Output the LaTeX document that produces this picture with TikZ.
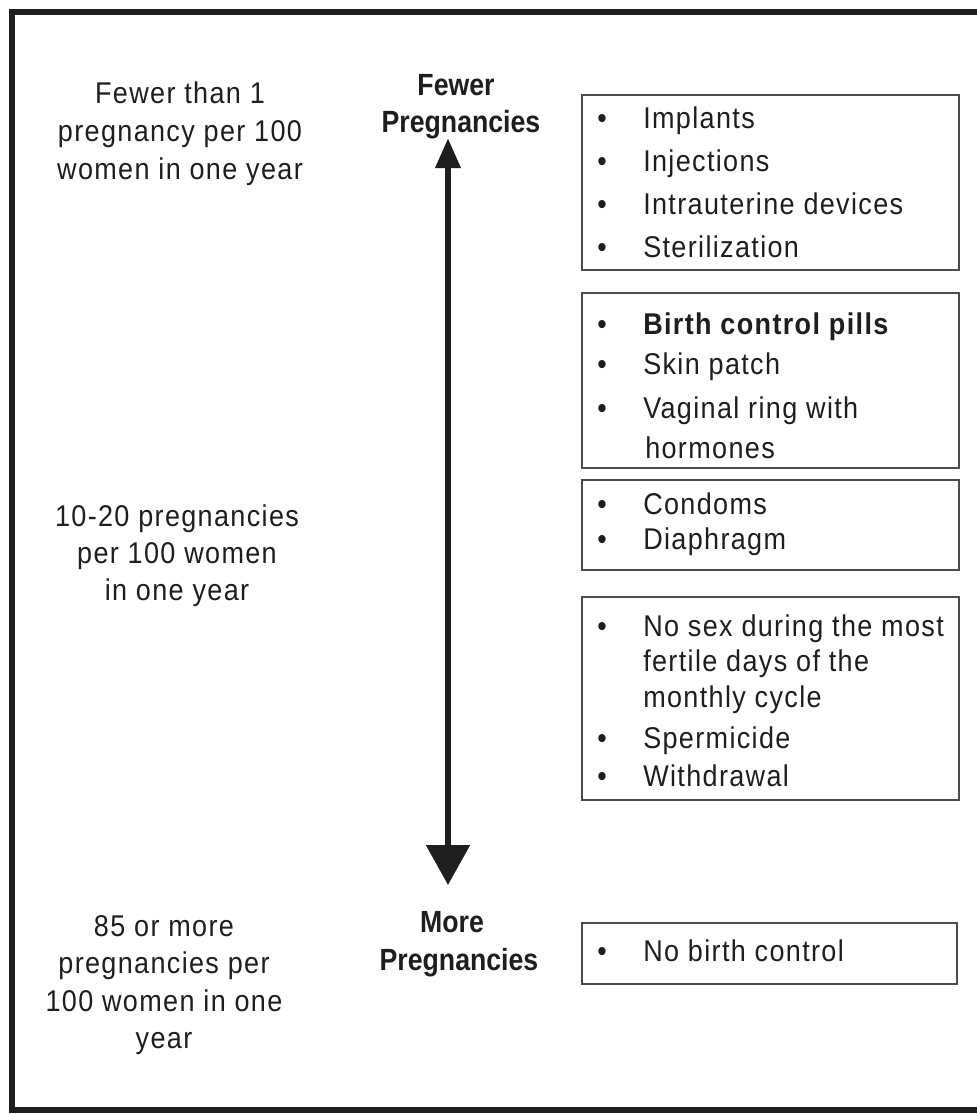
\documentclass[tikz,border=0pt]{standalone}
\usepackage{fontspec}
\setmainfont{Liberation Sans}[FakeStretch=0.9, LetterSpace=4.5]
\newfontfamily\labfont{Liberation Sans}[FakeStretch=0.87]
\usetikzlibrary{arrows.meta,fit}
\definecolor{ink}{HTML}{1E1E1E}
\begin{document}
\begin{tikzpicture}[x=0.75pt,y=-0.75pt,
  txt/.style={font=\fontsize{22.5}{26}\selectfont, text=ink, inner sep=0pt, anchor=base},
  item/.style={txt, anchor=base west},
  bul/.style={txt, anchor=base},
  lab/.style={font=\labfont\bfseries\fontsize{23}{26}\selectfont, text=ink, inner sep=0pt, anchor=base},
  boxst/.style={draw=black!70, line width=1.1pt, inner sep=0pt},
  frame/.style={draw=ink, line width=4.5pt},
  axis/.style={draw=ink, line width=4.8pt}]
\useasboundingbox (0,0) rectangle (976,1114);
% outer frame (right side runs off the picture)
\draw[frame] (990,11.5) -- (11.5,11.5) -- (11.5,1110) -- (990,1110);

% left texts
\node[txt] (l1a) at (180,103) {Fewer than 1};
\node[txt] (l1b) at (180,141) {pregnancy per 100};
\node[txt] (l1c) at (180,179) {women in one year};
\node[txt] (l2a) at (177,526) {10-20 pregnancies};
\node[txt] (l2b) at (177,563) {per 100 women};
\node[txt] (l2c) at (177,600) {in one year};
\node[txt] (l3a) at (164,936) {85 or more};
\node[txt] (l3b) at (164,973) {pregnancies per};
\node[txt] (l3c) at (164,1011) {100 women in one};
\node[txt] (l3d) at (164,1048) {year};

% axis labels
\node[lab] (fw1) at (456,95) {Fewer};
\node[lab] (fw2) at (461,132) {Pregnancies};
\node[lab] (mo1) at (452,932) {More};
\node[lab] (mo2) at (459,970) {Pregnancies};

% axis arrow
\coordinate (atop) at (448,138);
\coordinate (abot) at (448,885);
\draw[axis, {Triangle[length=22.5pt,width=18pt]}-{Triangle[length=30pt,width=32pt]}] (atop) -- (abot);

% boxes
\node[boxst, fit={(582,95) (959,270)}] (b1) {};
\node[boxst, fit={(582,293) (959,468)}] (b2) {};
\node[boxst, fit={(582,480) (959,570)}] (b3) {};
\node[boxst, fit={(582,597) (959,800)}] (b4) {};
\node[boxst, fit={(582,923) (957,984)}] (b5) {};

% box 1
\node[bul] (u11) at (602,128) {•}; \node[item] (t11) at (643,128) {Implants};
\node[bul] (u12) at (602,171) {•}; \node[item] (t12) at (643,171) {Injections};
\node[bul] (u13) at (602,214) {•}; \node[item] (t13) at (643,214) {Intrauterine devices};
\node[bul] (u14) at (602,257) {•}; \node[item] (t14) at (643,257) {Sterilization};

% box 2
\node[bul] (u21) at (602,334) {•}; \node[item] (t21) at (643,334) {\bfseries Birth control pills};
\node[bul] (u22) at (602,374) {•}; \node[item] (t22) at (643,374) {Skin patch};
\node[bul] (u23) at (602,418) {•}; \node[item] (t23) at (643,418) {Vaginal ring with};
\node[item] (t24) at (645,458) {hormones};

% box 3
\node[bul] (u31) at (602,514) {•}; \node[item] (t31) at (643,514) {Condoms};
\node[bul] (u32) at (602,549) {•}; \node[item] (t32) at (643,549) {Diaphragm};

% box 4
\node[bul] (u41) at (602,636) {•}; \node[item] (t41) at (643,636) {No sex during the most};
\node[item] (t42) at (643,671) {fertile days of the};
\node[item] (t43) at (643,707) {monthly cycle};
\node[bul] (u44) at (602,748) {•}; \node[item] (t44) at (643,748) {Spermicide};
\node[bul] (u45) at (602,786) {•}; \node[item] (t45) at (643,786) {Withdrawal};

% box 5
\node[bul] (u51) at (602,961) {•}; \node[item] (t51) at (643,961) {No birth control};
\end{tikzpicture}
\end{document}
